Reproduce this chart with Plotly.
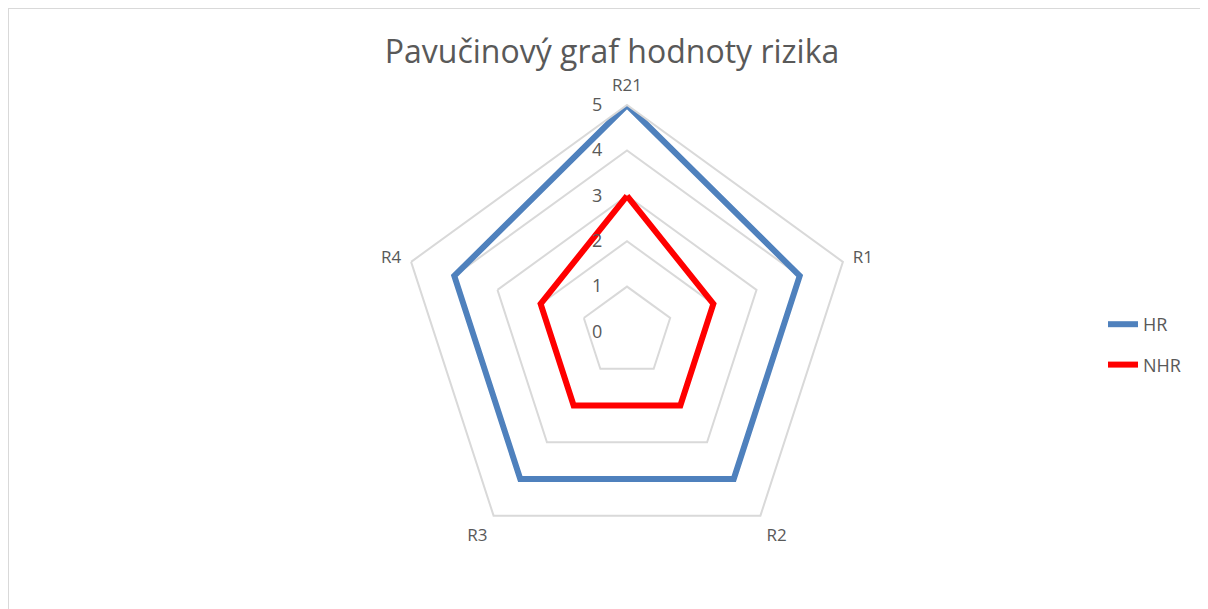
import plotly.graph_objects as go

categories = ["R21", "R1", "R2", "R3", "R4"]
hr_values = [5, 4, 4, 4, 4]
nhr_values = [3, 2, 2, 2, 2]
radial_ticks = [0, 1, 2, 3, 4, 5]

TEXT = "#595959"
GRID = "#D9D9D9"
OFF = 8  # page body margin shifts the figure
W, H = 1208 - OFF, 609 - OFF

# close the polygons
theta = categories + categories[:1]

fig = go.Figure()
fig.add_trace(go.Scatterpolar(
    r=hr_values + hr_values[:1], theta=theta, mode="lines", name="HR",
    line={"color": "#4F81BD", "width": 6}, legendgroup="hr",
))
fig.add_trace(go.Scatterpolar(
    r=nhr_values + nhr_values[:1], theta=theta, mode="lines", name="NHR",
    line={"color": "#FF0000", "width": 6}, legendgroup="nhr",
))

cx, cy, rad = 627 - OFF, 332 - OFF, 227
fig.update_layout(
    width=W, height=H,
    margin={"l": 0, "r": 0, "t": 0, "b": 0},
    paper_bgcolor="white",
    font={"family": "Open Sans", "color": TEXT, "size": 17},
    title={"text": "Pavučinový graf hodnoty rizika", "x": (612 - OFF) / W, "xanchor": "center",
           "y": 1 - (52 - OFF) / H, "yanchor": "middle",
           "font": {"size": 32, "color": TEXT}},
    polar={
        "domain": {"x": [(cx - rad) / W, (cx + rad) / W],
                   "y": [(H - cy - rad) / H, (H - cy + rad) / H]},
        "gridshape": "linear",
        "bgcolor": "white",
        "radialaxis": {"range": [0, 5], "tickvals": radial_ticks, "angle": 90,
                       "tickangle": 90, "side": "counterclockwise", "showline": False,
                       "ticks": "outside", "ticklen": 18, "tickcolor": "rgba(0,0,0,0)",
                       "gridcolor": GRID, "gridwidth": 2,
                       "tickfont": {"size": 18, "color": TEXT}},
        "angularaxis": {"rotation": 90, "direction": "clockwise", "showgrid": False,
                        "linecolor": GRID, "linewidth": 2,
                        "ticks": "outside", "ticklen": 6, "tickcolor": "rgba(0,0,0,0)",
                        "tickfont": {"size": 17, "color": TEXT}},
    },
    legend={"x": (1103 - OFF) / W, "y": 1 - (306 - OFF) / H, "xanchor": "left", "yanchor": "top",
            "tracegroupgap": 14, "font": {"size": 18, "color": TEXT}},
    shapes=[{"type": "rect", "xref": "paper", "yref": "paper",
             "x0": 0, "y0": -0.02, "x1": 1.02, "y1": 1,
             "line": {"color": GRID, "width": 2}}],
)

fig.write_html("out.html")
